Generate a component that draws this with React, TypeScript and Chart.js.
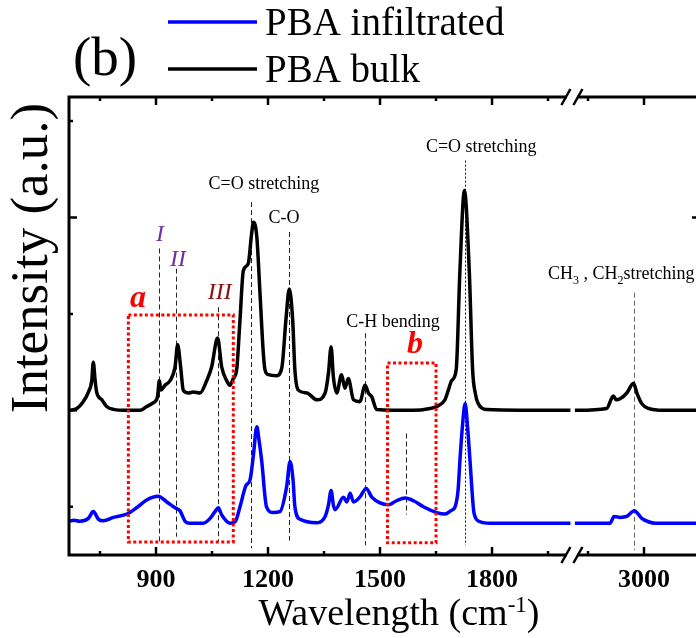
import React, { useEffect, useRef } from "react";
import { Chart, registerables } from "chart.js";

Chart.register(...registerables);

// ---- axis break (wavenumbers) ----
const X_MIN = 667;
const BREAK_LOW = 2014;
const BREAK_HIGH = 2807;
const X_MAX = 3150;
const Y_MIN = 0;
const Y_MAX = 4.75;

// ---- PBA bulk (black, offset) ----
const bulkWavenumbers = [
  667, 688, 705, 719, 728, 732, 737, 741, 755, 768,
  786, 822, 857, 875, 893, 904, 909, 913, 924, 938,
  951, 958, 966, 973, 987, 1000, 1018, 1036, 1049, 1065,
  1076, 1089, 1098, 1107, 1116, 1125, 1134, 1147, 1156, 1161,
  1170, 1179, 1187, 1192, 1201, 1223, 1237, 1248, 1257, 1266,
  1272, 1281, 1304, 1331, 1353, 1362, 1369, 1375, 1384, 1397,
  1406, 1415, 1429, 1446, 1460, 1469, 1478, 1491, 1589, 1634,
  1652, 1674, 1683, 1692, 1704, 1714, 1726, 1739, 1748, 1755,
  1763, 1786, 2010,
  2815, 2900, 2918, 2925, 2936, 2954, 2972, 2981, 2994, 3012, 3052, 3150,
];
const bulkIntensity = [
  1.5, 1.52, 1.59, 1.69, 1.81, 2.0, 1.81, 1.69, 1.61, 1.54,
  1.51, 1.5, 1.5, 1.54, 1.58, 1.64, 1.81, 1.71, 1.76, 1.81,
  1.95, 2.18, 1.95, 1.71, 1.68, 1.69, 1.68, 1.81, 1.95, 2.25,
  1.95, 1.81, 1.76, 1.83, 1.92, 2.44, 2.95, 3.02, 3.33, 3.45,
  3.3, 2.68, 2.12, 1.92, 1.87, 1.86, 1.94, 2.44, 2.76, 2.44,
  1.92, 1.71, 1.68, 1.61, 1.68, 1.89, 2.16, 1.85, 1.68, 1.87,
  1.73, 1.83, 1.61, 1.59, 1.76, 1.68, 1.64, 1.51, 1.5, 1.52,
  1.54, 1.61, 1.71, 1.81, 1.92, 2.95, 3.78, 2.95, 1.92, 1.68,
  1.57, 1.51, 1.5,
  1.5, 1.52, 1.65, 1.61, 1.62, 1.68, 1.78, 1.68, 1.57, 1.52, 1.5, 1.5,
];

// ---- PBA infiltrated (blue) ----
const infWavenumbers = [
  667, 680, 696, 719, 732, 746, 759, 786, 822, 848,
  875, 892, 906, 929, 951, 964, 978, 991, 1027, 1045,
  1058, 1067, 1076, 1089, 1098, 1112, 1125, 1141, 1152, 1161,
  1170, 1176, 1183, 1196, 1214, 1232, 1250, 1259, 1267, 1272,
  1286, 1331, 1353, 1362, 1369, 1375, 1380, 1402, 1411, 1420,
  1429, 1446, 1463, 1478, 1500, 1522, 1543, 1567, 1591, 1616,
  1652, 1674, 1690, 1701, 1709, 1714, 1721, 1728, 1734, 1741,
  1752, 1768, 1795, 2010,
  2815, 2909, 2920, 2936, 2954, 2974, 2994, 3012, 3030, 3150,
];
const infIntensity = [
  0.35, 0.36, 0.35, 0.38, 0.45, 0.37, 0.355, 0.39, 0.425, 0.49,
  0.57, 0.6, 0.61, 0.55, 0.49, 0.46, 0.35, 0.33, 0.33, 0.38,
  0.45, 0.49, 0.415, 0.35, 0.33, 0.345, 0.5, 0.72, 0.78, 1.04,
  1.33, 1.19, 0.98, 0.5, 0.44, 0.45, 0.71, 0.97, 0.78, 0.5,
  0.37, 0.335, 0.4, 0.52, 0.67, 0.52, 0.47, 0.6, 0.55, 0.64,
  0.55, 0.6, 0.69, 0.6, 0.54, 0.52, 0.56, 0.59, 0.56, 0.5,
  0.44, 0.425, 0.46, 0.5, 0.67, 0.98, 1.35, 1.57, 1.35, 0.98,
  0.43, 0.345, 0.33, 0.33,
  0.33, 0.33, 0.4, 0.39, 0.4, 0.46, 0.38, 0.345, 0.33, 0.33,
];

// ---- ticks ----
const xMajorTicks = [900, 1200, 1500, 1800, 3000];
const xTickLabels = ["900", "1200", "1500", "1800", "3000"];
const xMinorTicks = [750, 1050, 1350, 1650, 1950, 2850];
const yMajorTicks = [1.5, 3.5];
const yMinorTicks = [0.5, 2.5, 4.5];

const seriesNames = ["PBA infiltrated", "PBA bulk"];

const GAP = BREAK_HIGH - BREAK_LOW;
const toV = (w: number) => (w <= BREAK_LOW ? w : w - GAP);

function buildPoints(ws: number[], vs: number[]) {
  const pts: { x: number; y: number | null }[] = [];
  for (let i = 0; i < ws.length; i++) {
    if (i > 0 && ws[i - 1] <= BREAK_LOW && ws[i] >= BREAK_HIGH) {
      pts.push({ x: BREAK_LOW, y: null });
    }
    pts.push({ x: toV(ws[i]), y: vs[i] });
  }
  return pts;
}

const SERIF = "'Liberation Serif', 'Times New Roman', serif";
const CANVAS_W = 720;
const CANVAS_H = 638;

const decor = {
  id: "decor",
  beforeDatasetsDraw(chart: any) {
    const { ctx } = chart;
    const xs = chart.scales.x;
    const ys = chart.scales.y;
    const X = (w: number) => xs.getPixelForValue(toV(w));
    const Y = (v: number) => ys.getPixelForValue(v);
    const vlines = [
      { w: 909, y0: 3.18, y1: 0.14, dash: [5, 3], color: "#222" },
      { w: 953, y0: 2.97, y1: 0.19, dash: [5, 3], color: "#222" },
      { w: 1067, y0: 2.57, y1: 0.14, dash: [5, 3], color: "#222" },
      { w: 1154, y0: 3.66, y1: 0.07, dash: [5, 3], color: "#222" },
      { w: 1257, y0: 3.35, y1: 0.15, dash: [5, 3], color: "#222" },
      { w: 1461, y0: 2.3, y1: 0.1, dash: [5, 3], color: "#222" },
      { w: 1570, y0: 1.26, y1: 0.42, dash: [5, 3], color: "#222" },
      { w: 1727, y0: 4.09, y1: 0.1, dash: [2, 2], color: "#111" },
      { w: 2974, y0: 2.72, y1: 0.05, dash: [5, 3], color: "#666" },
    ];
    ctx.save();
    ctx.lineWidth = 1;
    vlines.forEach((l) => {
      ctx.strokeStyle = l.color;
      ctx.setLineDash(l.dash);
      const x = Math.round(X(l.w)) + 0.5;
      ctx.beginPath();
      ctx.moveTo(x, Y(l.y0));
      ctx.lineTo(x, Y(l.y1));
      ctx.stroke();
    });
    ctx.restore();
  },
  afterDatasetsDraw(chart: any) {
    const { ctx, chartArea } = chart;
    const xs = chart.scales.x;
    const ys = chart.scales.y;
    const X = (w: number) => xs.getPixelForValue(toV(w));
    const Y = (v: number) => ys.getPixelForValue(v);
    ctx.save();

    // red dotted boxes
    ctx.strokeStyle = "#ff0000";
    ctx.lineWidth = 3;
    ctx.setLineDash([3, 2.5]);
    const boxes = [
      { w0: 826, w1: 1107, y0: 2.49, y1: 0.135 },
      { w0: 1520, w1: 1650, y0: 1.99, y1: 0.127 },
    ];
    boxes.forEach((b) => {
      const x0 = X(b.w0), x1 = X(b.w1), y0 = Y(b.y0), y1 = Y(b.y1);
      ctx.strokeRect(x0, y0, x1 - x0, y1 - y0);
    });
    ctx.setLineDash([]);

    // annotation texts
    const txt = (s: string, w: number, v: number, font: string, color: string, align = "center") => {
      ctx.font = font;
      ctx.fillStyle = color;
      ctx.textAlign = align;
      ctx.textBaseline = "alphabetic";
      ctx.fillText(s, X(w), Y(v));
    };
    const f18 = `18px ${SERIF}`;
    txt("C=O stretching", 1771, 4.18, f18, "#000");
    txt("C=O stretching", 1189, 3.8, f18, "#000");
    txt("C-O", 1243, 3.44, f18, "#000");
    txt("C-H bending", 1535, 2.36, f18, "#000");
    txt("I", 911, 3.26, `italic 24px ${SERIF}`, "#7030a0");
    txt("II", 959, 3.0, `italic 24px ${SERIF}`, "#7030a0");
    txt("III", 1071, 2.66, `italic 24px ${SERIF}`, "#8b1010");
    txt("a", 852, 2.57, `bold italic 32px ${SERIF}`, "#ff0000");
    txt("b", 1594, 2.1, `bold italic 32px ${SERIF}`, "#ff0000");

    // CH3, CH2 stretching with subscripts
    {
      let x = X(1950);
      const y = Y(2.86);
      ctx.fillStyle = "#000";
      ctx.textAlign = "left";
      const parts: [string, boolean][] = [
        ["CH", false], ["3", true], [" , CH", false], ["2", true], ["stretching", false],
      ];
      parts.forEach(([s, sub]) => {
        ctx.font = sub ? `12px ${SERIF}` : f18;
        ctx.fillText(s, x, sub ? y + 5 : y);
        x += ctx.measureText(s).width;
      });
    }

    // frame
    const { left, right, top, bottom } = chartArea;
    ctx.strokeStyle = "#000";
    ctx.lineWidth = 3;
    ctx.strokeRect(left, top, right - left, bottom - top);

    // ticks
    ctx.lineWidth = 2.5;
    const xt = (w: number, len: number) => {
      const x = X(w);
      ctx.beginPath();
      ctx.moveTo(x, bottom);
      ctx.lineTo(x, bottom - len);
      ctx.moveTo(x, top);
      ctx.lineTo(x, top + len);
      ctx.stroke();
    };
    xMajorTicks.forEach((w) => xt(w, 8));
    xMinorTicks.forEach((w) => xt(w, 4));
    const yt = (v: number, len: number) => {
      const y = Y(v);
      ctx.beginPath();
      ctx.moveTo(left, y);
      ctx.lineTo(left + len, y);
      ctx.moveTo(right, y);
      ctx.lineTo(right - len, y);
      ctx.stroke();
    };
    yMajorTicks.forEach((v) => yt(v, 8));
    yMinorTicks.forEach((v) => yt(v, 4));

    // axis break marks
    const bx = xs.getPixelForValue(BREAK_LOW);
    [top, bottom].forEach((yy: number) => {
      ctx.fillStyle = "#fff";
      ctx.fillRect(bx - 5, yy - 2.5, 10, 5);
      ctx.strokeStyle = "#000";
      ctx.lineWidth = 2.5;
      [-6, 6].forEach((dx) => {
        ctx.beginPath();
        ctx.moveTo(bx + dx - 4.5, yy + 8);
        ctx.lineTo(bx + dx + 4.5, yy - 8);
        ctx.stroke();
      });
    });

    // tick labels
    ctx.fillStyle = "#000";
    ctx.font = `bold 26px ${SERIF}`;
    ctx.textAlign = "center";
    ctx.textBaseline = "alphabetic";
    xMajorTicks.forEach((w, i) => ctx.fillText(xTickLabels[i], X(w), bottom + 32));

    // x title with superscript
    {
      const main = `38px ${SERIF}`;
      const sup = `23px ${SERIF}`;
      const a = "Wavelength (cm";
      const b = "-1";
      const c = ")";
      ctx.font = main;
      const wa = ctx.measureText(a).width;
      const wc = ctx.measureText(c).width;
      ctx.font = sup;
      const wb = ctx.measureText(b).width;
      let x = 399 - (wa + wb + wc) / 2;
      const y = 625;
      ctx.textAlign = "left";
      ctx.font = main;
      ctx.fillText(a, x, y);
      x += wa;
      ctx.font = sup;
      ctx.fillText(b, x, y - 13);
      x += wb;
      ctx.font = main;
      ctx.fillText(c, x, y);
    }

    // y title
    ctx.save();
    ctx.translate(47, 258);
    ctx.rotate(-Math.PI / 2);
    ctx.font = `53px ${SERIF}`;
    ctx.textAlign = "center";
    ctx.fillText("Intensity (a.u.)", 0, 0);
    ctx.restore();

    // panel label
    ctx.font = `55px ${SERIF}`;
    ctx.textAlign = "center";
    ctx.fillText("(b)", 105, 75);

    // legend
    const legendColors = ["#0000ff", "#000000"];
    const legendY = [22, 69];
    seriesNames.forEach((name, i) => {
      ctx.strokeStyle = legendColors[i];
      ctx.lineWidth = 3.5;
      ctx.beginPath();
      ctx.moveTo(168, legendY[i]);
      ctx.lineTo(257, legendY[i]);
      ctx.stroke();
      ctx.fillStyle = "#000";
      ctx.font = `39px ${SERIF}`;
      ctx.textAlign = "left";
      ctx.fillText(name, 265, legendY[i] + 13);
    });

    ctx.restore();
  },
};

export default function App() {
  const ref = useRef<HTMLCanvasElement | null>(null);
  useEffect(() => {
    if (!ref.current) return;
    const chart = new Chart(ref.current, {
      type: "line",
      data: {
        datasets: [
          {
            label: seriesNames[1],
            data: buildPoints(bulkWavenumbers, bulkIntensity) as any,
            borderColor: "#000000",
            borderWidth: 3.5,
            pointRadius: 0,
            cubicInterpolationMode: "monotone",
            spanGaps: false,
          },
          {
            label: seriesNames[0],
            data: buildPoints(infWavenumbers, infIntensity) as any,
            borderColor: "#0000ff",
            borderWidth: 3.5,
            pointRadius: 0,
            cubicInterpolationMode: "monotone",
            spanGaps: false,
          },
        ],
      },
      options: {
        animation: false,
        responsive: false,
        events: [],
        layout: { padding: { left: 69, top: 97, right: CANVAS_W - 700, bottom: CANVAS_H - 555 } },
        scales: {
          x: { type: "linear", min: X_MIN, max: toV(X_MAX), display: false },
          y: { type: "linear", min: Y_MIN, max: Y_MAX, display: false },
        },
        plugins: { legend: { display: false }, tooltip: { enabled: false } },
      },
      plugins: [decor as any],
    });
    return () => chart.destroy();
  }, []);
  return (
    <div style={{ position: "fixed", left: 0, top: 0, width: 696, height: 638, overflow: "hidden", background: "#fff" }}>
      <canvas ref={ref} width={CANVAS_W} height={CANVAS_H} style={{ width: CANVAS_W, height: CANVAS_H, display: "block" }} />
    </div>
  );
}
